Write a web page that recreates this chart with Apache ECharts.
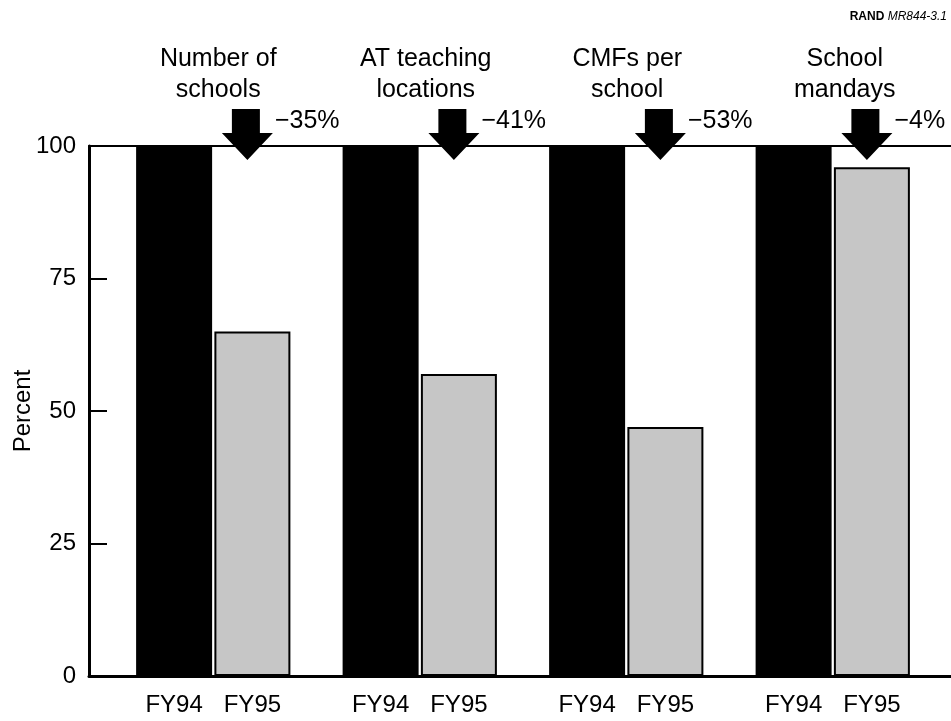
<!DOCTYPE html>
<html>
<head>
<meta charset="utf-8">
<script src="https://cdn.jsdelivr.net/npm/echarts@6/dist/echarts.min.js"></script>
<style>
html,body{margin:0;padding:0;background:#fff;}
#chart{width:951px;height:721px;}
</style>
</head>
<body>
<div id="chart"></div>
<script>
const categories = ['Number of\nschools', 'AT teaching\nlocations', 'CMFs per\nschool', 'School\nmandays'];
const seriesNames = ['FY94', 'FY95'];
const fy94 = [100, 100, 100, 100];
const fy95 = [65, 57, 47, 96];
const changes = ['\u221235%', '\u221241%', '\u221253%', '\u22124%'];
const yTicks = [0, 25, 50, 75, 100];

// layout only: horizontal nudge (px) of each category title
const titleNudge = [5, 6, 1, 12];

const FONT = 'Liberation Sans, Arial, Helvetica, sans-serif';
const arrowPath = 'path://M10,0 L38,0 L38,24 L51,24 L25.5,51 L0,24 L10,24 Z';

const chart = echarts.init(document.getElementById('chart'));
const option = {
  backgroundColor: '#fff',
  animation: false,
  textStyle: { fontFamily: FONT, color: '#000' },
  graphic: [{
    type: 'text', right: 4, top: 11,
    style: {
      text: '{b|RAND} {i|MR844-3.1}',
      rich: {
        b: { fontFamily: FONT, fontWeight: 'bold', fontSize: 12, fill: '#000' },
        i: { fontFamily: FONT, fontStyle: 'italic', fontSize: 12, fill: '#000' }
      }
    }
  }],
  grid: [
    { left: 89, right: 0, top: 146, bottom: 45, containLabel: false, outerBoundsMode: 'none' },
    { left: 110, width: 826, top: 146, bottom: 45, containLabel: false, outerBoundsMode: 'none' }
  ],
  xAxis: [
    { gridIndex: 0, type: 'value', min: 0, max: 1, position: 'bottom',
      axisLine: { show: true, lineStyle: { color: '#000', width: 3 } },
      axisTick: { show: false }, axisLabel: { show: false }, splitLine: { show: false } },
    { gridIndex: 0, type: 'value', min: 0, max: 1, position: 'top',
      axisLine: { show: true, lineStyle: { color: '#000', width: 2 } },
      axisTick: { show: false }, axisLabel: { show: false }, splitLine: { show: false } },
    { gridIndex: 1, type: 'category', position: 'top',
      data: categories.map(function (c, i) {
        return { value: c, textStyle: { padding: [0, 0, 0, titleNudge[i] * 2] } };
      }),
      axisLine: { show: false }, axisTick: { show: false },
      axisLabel: { show: true, interval: 0, fontFamily: FONT, fontSize: 25, lineHeight: 31, color: '#000', margin: 40 } }
  ],
  yAxis: [
    { gridIndex: 0, type: 'value', min: 0, max: 100, interval: 25,
      name: 'Percent', nameLocation: 'middle', nameGap: 54, nameMoveOverlap: false,
      nameTextStyle: { fontFamily: FONT, fontSize: 24, color: '#000' },
      axisLine: { show: true, lineStyle: { color: '#000', width: 3 } },
      axisTick: { show: true, inside: true, length: 18, lineStyle: { color: '#000', width: 2 } },
      axisLabel: { fontFamily: FONT, fontSize: 24, color: '#000', margin: 13,
        formatter: function (v) { return yTicks.indexOf(v) >= 0 ? String(v) : ''; } },
      splitLine: { show: false } },
    { gridIndex: 1, type: 'value', min: 0, max: 100, show: false, splitLine: { show: false } }
  ],
  series: [
    { name: seriesNames[0], type: 'bar', xAxisIndex: 2, yAxisIndex: 1, data: fy94,
      barWidth: 76, barGap: '3%',
      itemStyle: { color: '#000' },
      label: { show: true, position: 'bottom', distance: 17, formatter: seriesNames[0],
        fontFamily: FONT, fontSize: 24, color: '#000' } },
    { name: seriesNames[1], type: 'bar', xAxisIndex: 2, yAxisIndex: 1, data: fy95,
      barWidth: 76, barGap: '3%',
      itemStyle: { color: '#c6c6c6', borderColor: '#000', borderWidth: 2 },
      label: { show: true, position: 'bottom', distance: 17, formatter: seriesNames[1],
        fontFamily: FONT, fontSize: 24, color: '#000' },
      markPoint: {
        symbol: arrowPath, symbolSize: [51, 51], symbolKeepAspect: true,
        symbolOffset: [-5, -11.5],
        itemStyle: { color: '#000' },
        label: { show: true, position: 'right', distance: 2, offset: [0, -13],
          fontFamily: FONT, fontSize: 25, color: '#000',
          formatter: function (p) { return changes[p.dataIndex]; } },
        data: categories.map(function (c, i) { return { coord: [i, fy94[i]] }; })
      } }
  ]
};
chart.setOption(option);
</script>
</body>
</html>
